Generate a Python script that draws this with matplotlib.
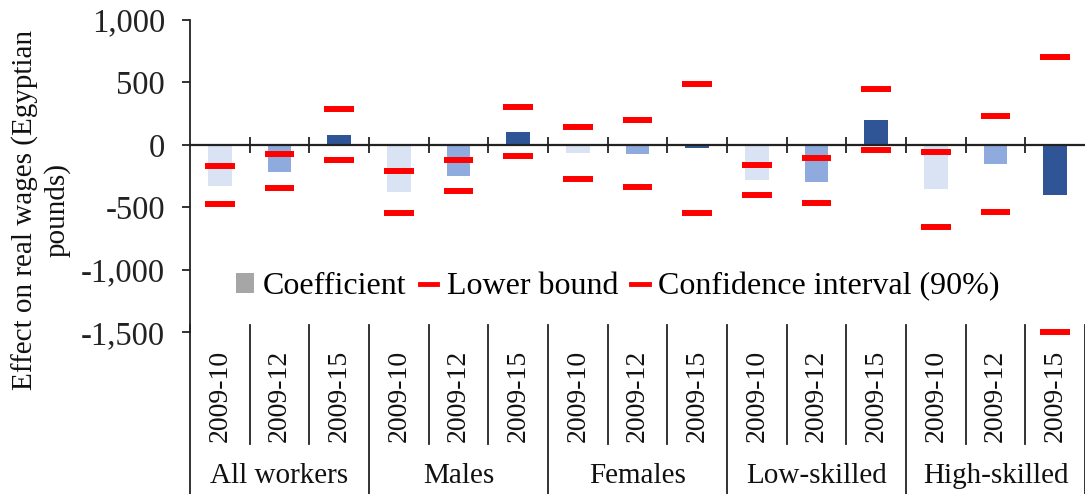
import matplotlib
matplotlib.use("Agg")
from matplotlib import pyplot as plt
from matplotlib.lines import Line2D
from matplotlib.patches import Patch
import matplotlib.transforms as mtransforms

plt.rcParams['font.family'] = ['Liberation Serif', 'DejaVu Serif']

# data
groups = ["All workers", "Males", "Females", "Low-skilled", "High-skilled"]
periods = ["2009-10", "2009-12", "2009-15"]
coef = [-325, -213, 82, -378, -250, 107, -66, -75, -27, -283, -293, 202, -354, -155, -402]
lower = [-474, -346, -123, -546, -370, -91, -275, -338, -546, -402, -466, -37, -658, -538, -1495]
upper = [-171, -75, 285, -207, -123, 300, 144, 202, 490, -160, -107, 444, -59, 234, 702]
period_colors = ["#DAE3F3", "#8FAADC", "#2F5597"]

n = len(coef)
xs = list(range(n))
bar_colors = [period_colors[i % 3] for i in xs]

fig = plt.figure(figsize=(10.85, 4.94), dpi=100)
ax = fig.add_axes([0.1751, 0.3273, 0.8249, 0.6322])

# bars and confidence bounds
ax.bar(xs, coef, width=0.4, color=bar_colors, zorder=2)
ax.hlines(upper, [x - 0.25 for x in xs], [x + 0.25 for x in xs], colors="red",
          linewidths=4.3, zorder=3, clip_on=False)
ax.hlines(lower, [x - 0.25 for x in xs], [x + 0.25 for x in xs], colors="red",
          linewidths=4.3, zorder=3, clip_on=False)

ax.set_xlim(-0.5, n - 0.5)
ax.set_ylim(-1500, 1000)
ax.set_yticks([-1500, -1000, -500, 0, 500, 1000])
ax.set_yticklabels(["{:,}".format(v) for v in [-1500, -1000, -500, 0, 500, 1000]])
ax.tick_params(axis="y", direction="out", length=6, width=1.3, pad=12, labelsize=23.5,
               colors="#222222")
ax.set_xticks([x + 0.5 for x in xs[:-1]])
ax.tick_params(axis="x", direction="inout", length=12, width=1.3, labelbottom=False,
               colors="#222222")

for s in ["top", "right"]:
    ax.spines[s].set_visible(False)
ax.spines["bottom"].set_position(("data", 0))
ax.spines["bottom"].set_linewidth(1.6)
ax.spines["left"].set_linewidth(1.3)
ax.spines["bottom"].set_color("#222222")
ax.spines["left"].set_color("#222222")

# category labels below the plot
trans = mtransforms.blended_transform_factory(ax.transData, ax.transAxes)
for x in xs:
    ax.text(x, -0.205, periods[x % 3], rotation=90, ha="center", va="center",
            fontsize=20, transform=trans, color="#111111")
for g, name in enumerate(groups):
    ax.text(g * 3 + 1, -0.46, name, ha="center", va="center", fontsize=21,
            transform=trans, color="#111111")

for b in range(n + 1):
    x = b - 0.5
    y_end = -0.52 if b % 3 == 0 else -0.357
    ax.add_line(Line2D([x, x], [0.025, y_end], transform=trans, color="#222222",
                       linewidth=1.3, clip_on=False))

fig.text(0.038, 0.575, "Effect on real wages (Egyptian\npounds)", rotation=90,
         ha="center", va="center", fontsize=21, linespacing=1.25,
         multialignment="center", color="#111111")

handles = [Patch(facecolor="#A6A6A6", edgecolor="none"),
           Line2D([0], [0], color="red", linewidth=3.5),
           Line2D([0], [0], color="red", linewidth=3.5)]
ax.legend(handles, ["Coefficient", "Lower bound", "Confidence interval (90%)"],
          loc="center", bbox_to_anchor=(0.478, 0.146), ncol=3, frameon=False,
          fontsize=23, handlelength=0.55, handleheight=0.55, handletextpad=0.3,
          columnspacing=0.4, borderaxespad=0)

fig.savefig("out.png", dpi=100)
